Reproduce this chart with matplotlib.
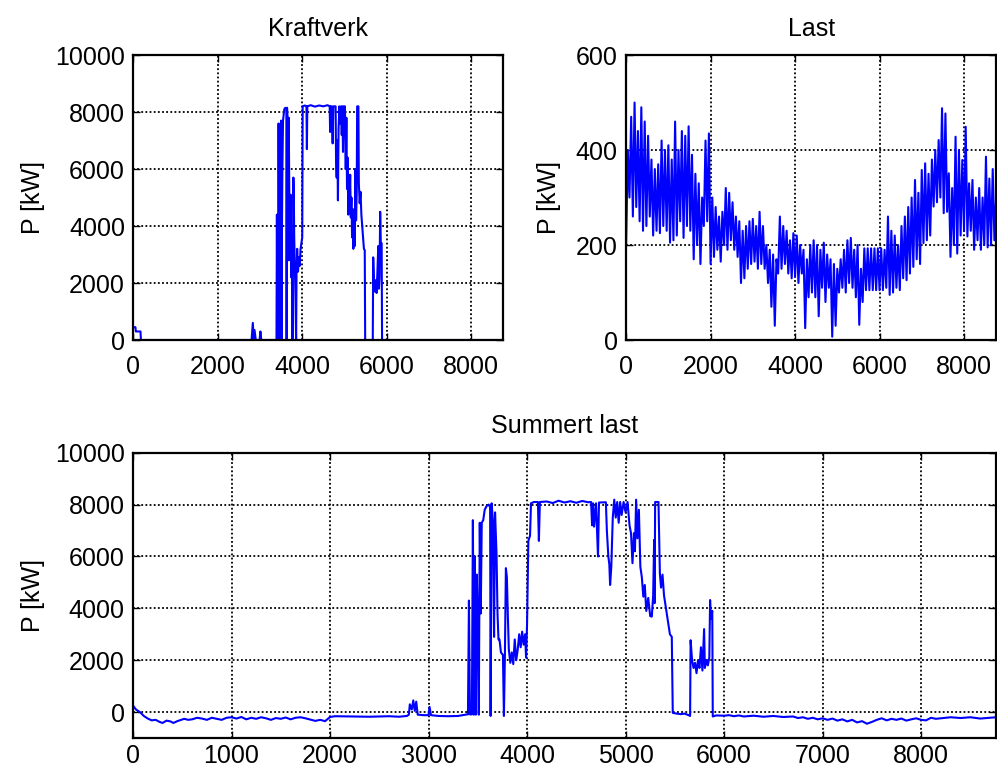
import numpy as np
import matplotlib
matplotlib.use('Agg')
import matplotlib.pyplot as plt

# Kraftverk: production [kW], read at irregular hours
kv_hours = [0, 50, 60, 170, 180, 2800, 2830, 2850, 2870, 2900, 2990, 3010, 3030,
            3390, 3400, 3410, 3430, 3440, 3455, 3470, 3480, 3500, 3510, 3520, 3530,
            3545, 3560, 3575, 3600, 3625, 3630, 3640, 3660, 3670, 3680, 3690, 3700,
            3715, 3725, 3740, 3755, 3770, 3780, 3790, 3800, 3810, 3825, 3840, 3855,
            3865, 3880, 3900, 3920, 3940, 3960, 3980, 4000, 4010, 4060, 4100, 4110,
            4120, 4200, 4300, 4400, 4500, 4600, 4650, 4660, 4670, 4700, 4720, 4735,
            4790, 4800, 4815, 4830, 4845, 4860, 4880, 4900, 4920, 4935, 4950, 4965,
            4980, 5000, 5010, 5030, 5045, 5060, 5075, 5090, 5105, 5120, 5135, 5150,
            5165, 5180, 5195, 5210, 5230, 5245, 5260, 5275, 5290, 5300, 5330, 5340,
            5360, 5380, 5400, 5430, 5460, 5480, 5490, 5670, 5680, 5700, 5720, 5740,
            5760, 5780, 5800, 5815, 5830, 5845, 5860, 5880, 5890, 8760]
kv_vals = [450, 450, 300, 300, 0, 0, 600, 0, 350, 0, 0, 300, 0,
           0, 4400, 0, 0, 7600, 0, 5800, 0, 7700, 0, 3900, 6000,
           7700, 7900, 8100, 8150, 8100, 0, 8150, 7500, 2800, 7800, 5600, 3800,
           2800, 5100, 2200, 2700, 0, 2800, 5700, 5100, 3600, 2500, 1500, 0,
           2400, 3200, 2400, 2900, 2600, 3200, 3400, 3600, 8200, 8230, 8200, 6700,
           8200, 8240, 8190, 8230, 8200, 8240, 8200, 7300, 8200, 8200, 6900, 8200,
           8200, 6400, 5700, 7000, 4900, 7400, 8200, 7600, 8200, 7200, 8200, 6600,
           8200, 7900, 8200, 6000, 7800, 5300, 6400, 4400, 5600, 4800, 5800, 4300,
           5000, 3600, 4600, 3200, 3700, 3300, 6000, 4200, 5200, 8200, 8200, 5500,
           4800, 5200, 4400, 3800, 3200, 3150, 0, 0, 2900, 2000, 1700, 2100,
           1650, 2400, 3300, 1800, 2200, 4500, 3400, 3400, 0, 0]

# Last: load [kW], one reading every 40 hours
last_step = 40
last_vals = [200, 400, 300, 470, 260, 500, 280, 440, 250, 490,
             230, 460, 240, 430, 260, 380, 220, 360, 230, 370,
             225, 420, 240, 400, 230, 410, 205, 380, 210, 460,
             220, 400, 250, 440, 215, 430, 240, 450, 230, 390,
             170, 350, 200, 330, 160, 300, 240, 420, 250, 435,
             160, 300, 175, 280, 190, 260, 165, 270, 200, 320,
             190, 310, 210, 290, 190, 260, 175, 250, 120, 230,
             130, 240, 150, 250, 160, 255, 165, 240, 150, 270,
             160, 240, 150, 200, 120, 190, 70, 180, 30, 170,
             140, 260, 150, 240, 160, 230, 140, 210, 130, 225,
             133, 220, 120, 200, 140, 190, 25, 170, 90, 200,
             100, 210, 90, 200, 50, 190, 110, 205, 80, 180,
             110, 170, 7, 160, 30, 150, 100, 170, 110, 190,
             100, 210, 120, 215, 110, 190, 90, 200, 32, 150,
             80, 193, 105, 193, 105, 193, 105, 193, 105, 193,
             105, 193, 105, 190, 110, 260, 95, 230, 100, 220,
             110, 200, 105, 240, 130, 260, 126, 280, 140, 300,
             154, 337, 170, 310, 160, 358, 204, 372, 210, 350,
             220, 380, 281, 400, 290, 421, 300, 488, 267, 477,
             270, 351, 175, 320, 200, 428, 182, 400, 220, 379,
             230, 449, 218, 330, 230, 337, 190, 300, 210, 320,
             190, 300, 200, 386, 195, 340, 200, 360, 210, 300]

# Summert last [kW], read at irregular hours
sum_hours = [0, 30, 70, 110, 150, 190, 230, 270, 300, 340, 380, 410, 450, 490, 520,
             560, 600, 650, 700, 750, 800, 850, 900, 950, 1000, 1050, 1100, 1150,
             1200, 1250, 1300, 1350, 1400, 1450, 1500, 1550, 1600, 1650, 1700, 1750,
             1800, 1850, 1900, 1950, 2000, 2050, 2200, 2400, 2500, 2600, 2700, 2780,
             2800, 2810, 2830, 2845, 2860, 2875, 2890, 2950, 3000, 3010, 3025, 3100,
             3200, 3300, 3390, 3400, 3410, 3420, 3440, 3450, 3460, 3470, 3480, 3490,
             3500, 3510, 3520, 3530, 3540, 3555, 3570, 3590, 3610, 3625, 3630, 3640,
             3655, 3665, 3675, 3690, 3700, 3710, 3720, 3735, 3755, 3765, 3775, 3785,
             3795, 3805, 3815, 3830, 3845, 3860, 3875, 3890, 3905, 3920, 3935, 3950,
             3965, 3980, 3990, 4000, 4013, 4030, 4040, 4070, 4110, 4120, 4130, 4200,
             4260, 4320, 4380, 4440, 4500, 4560, 4620, 4650, 4660, 4670, 4680, 4700,
             4720, 4730, 4800, 4810, 4825, 4835, 4843, 4855, 4870, 4885, 4900, 4915,
             4930, 4945, 4960, 4980, 5000, 5020, 5040, 5055, 5070, 5085, 5095, 5107,
             5120, 5135, 5150, 5165, 5180, 5195, 5210, 5230, 5250, 5266, 5280, 5290,
             5295, 5300, 5334, 5348, 5360, 5375, 5390, 5410, 5430, 5450, 5469, 5479,
             5520, 5560, 5600, 5640, 5655, 5660, 5675, 5690, 5705, 5720, 5735, 5750,
             5765, 5780, 5797, 5805, 5820, 5835, 5850, 5858, 5865, 5880, 5885, 5920,
             6000, 6050, 6100, 6150, 6200, 6300, 6400, 6500, 6600, 6700, 6750, 6800,
             6850, 6900, 6950, 7000, 7050, 7100, 7150, 7200, 7250, 7300, 7350, 7400,
             7450, 7500, 7550, 7600, 7650, 7700, 7750, 7800, 7850, 7900, 7950, 8000,
             8050, 8100, 8150, 8200, 8300, 8400, 8500, 8600, 8700, 8760]
sum_vals = [250, 100, 0, -150, -250, -320, -300, -380, -420, -330, -360, -420, -350, -300, -260,
            -300, -280, -220, -250, -300, -220, -260, -300, -220, -200, -250, -190, -280,
            -220, -260, -200, -240, -300, -230, -260, -210, -280, -220, -200, -240,
            -290, -340, -300, -350, -190, -160, -170, -180, -170, -160, -180, -150,
            -100, 300, 100, 450, 50, 400, -100, -120, -120, 200, -120, -150,
            -160, -150, -90, -90, 4300, -90, -90, 7400, -100, 6000, -100, 5300,
            3400, -100, 7300, 3800, 7300, 7400, 7800, 7950, 8000, 7900, -150, 8050,
            7300, 2900, 7700, 6100, 3800, 2800, 2800, 2300, 2200, -150, 2200, 5550,
            5200, 3700, 2400, 1900, 2300, 1850, 2800, 2000, 2400, 3000, 2500, 3100,
            2600, 3000, 2100, 3400, 6600, 6800, 8050, 8100, 8100, 6600, 8100, 8120,
            8060, 8150, 8080, 8130, 8070, 8140, 8090, 8100, 7200, 8050, 7150, 8050,
            6000, 8080, 8090, 7000, 6000, 5700, 4900, 5600, 7500, 8190, 7500, 8100,
            7300, 8100, 7600, 8100, 7700, 8100, 7200, 6900, 5740, 6900, 6200, 8190,
            6700, 7800, 5600, 5200, 4450, 4900, 3900, 4400, 3700, 3680, 4500, 6640,
            4200, 8100, 8100, 5350, 4800, 5300, 4500, 4000, 3500, 3000, 2900, -30,
            -60, -80, -60, -120, -150, 2770, 2000, 1700, 1900, 1500, 2000, 1700,
            2500, 1600, 3200, 1700, 2000, 1800, 2100, 4320, 3600, 3900, -170, -130,
            -140, -120, -160, -130, -170, -140, -180, -150, -190, -170, -230, -200,
            -260, -220, -280, -240, -300, -250, -330, -280, -360, -300, -400, -350,
            -450, -380, -300, -240, -320, -260, -300, -250, -330, -280, -240, -300,
            -320, -220, -260, -240, -200, -230, -200, -250, -220, -200]

last_hours = np.arange(len(last_vals)) * last_step

plt.rcParams['font.family'] = ['Liberation Sans', 'DejaVu Sans']
plt.rcParams['font.size'] = 18


def style_axes(ax, xticks, yticks, xlim, ylim, xpad):
    ax.set_xlim(xlim)
    ax.set_ylim(ylim)
    ax.set_xticks(xticks)
    ax.set_yticks(yticks)
    ax.tick_params(axis='both', direction='in', top=True, right=True,
                   length=5, width=1, colors='k')
    ax.tick_params(axis='x', pad=xpad)
    ax.tick_params(axis='y', pad=6)
    ax.grid(True, color='k', linestyle=(0, (1.0, 1.3)), linewidth=1.3)
    for sp in ax.spines.values():
        sp.set_linewidth(1.6)


fig = plt.figure(figsize=(9.97, 7.71), dpi=100)

ax1 = fig.add_axes([0.1337, 0.559, 0.3711, 0.3696])
ax1.plot(kv_hours, kv_vals, color=(0, 0, 1), linewidth=1.5)
style_axes(ax1, range(0, 8001, 2000), range(0, 10001, 2000), (0, 8760), (0, 10000), 11)
ax1.set_title('Kraftverk', fontsize=18, pad=14)
ax1.set_ylabel('P [kW]', labelpad=7)

ax2 = fig.add_axes([0.628, 0.559, 0.3711, 0.3696])
ax2.plot(last_hours, last_vals, color=(0, 0, 1), linewidth=1.5)
style_axes(ax2, range(0, 8001, 2000), range(0, 601, 200), (0, 8760), (0, 600), 11)
ax2.set_title('Last', fontsize=18, pad=14)
ax2.set_ylabel('P [kW]', labelpad=11)

ax3 = fig.add_axes([0.1334, 0.0428, 0.8656, 0.370])
ax3.plot(sum_hours, sum_vals, color=(0, 0, 1), linewidth=1.5)
style_axes(ax3, range(0, 8001, 1000), range(0, 10001, 2000), (0, 8760), (-1000, 10000), 4)
ax3.set_title('Summert last', fontsize=18, pad=14)
ax3.set_ylabel('P [kW]', labelpad=7)

fig.savefig('out.png', dpi=100)
